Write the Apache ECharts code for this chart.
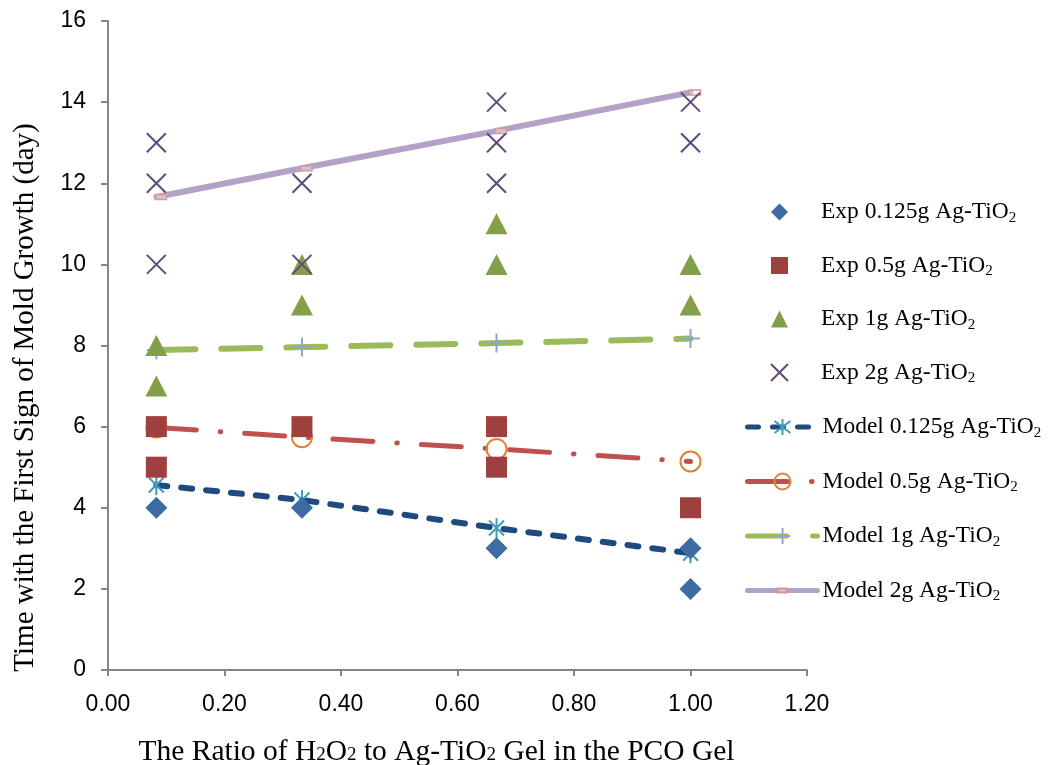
<!DOCTYPE html>
<html>
<head>
<meta charset="utf-8">
<script src="https://cdn.jsdelivr.net/npm/echarts@6/dist/echarts.min.js"></script>
<style>
html,body{margin:0;padding:0;background:#fff;}
#chart{width:1048px;height:765px;}
</style>
</head>
<body>
<div id="chart"></div>
<script>
// ---- data ----
const xTicks = [0, 0.2, 0.4, 0.6, 0.8, 1.0, 1.2];
const yTicks = [0, 2, 4, 6, 8, 10, 12, 14, 16];

const expNames = ['Exp 0.125g Ag-TiO2', 'Exp 0.5g Ag-TiO2', 'Exp 1g Ag-TiO2', 'Exp 2g Ag-TiO2'];
const modelNames = ['Model 0.125g Ag-TiO2', 'Model 0.5g Ag-TiO2', 'Model 1g Ag-TiO2', 'Model 2g Ag-TiO2'];

const exp0125 = [[0.083, 4], [0.333, 4], [0.667, 3], [1.0, 3], [1.0, 2]];
const exp05 = [[0.083, 6], [0.083, 5], [0.333, 6], [0.667, 6], [0.667, 5], [1.0, 4]];
const exp1 = [[0.083, 8], [0.083, 7], [0.333, 10], [0.333, 9], [0.667, 11], [0.667, 10], [1.0, 10], [1.0, 9]];
const exp2 = [[0.083, 13], [0.083, 12], [0.083, 10], [0.333, 12], [0.333, 10], [0.667, 14], [0.667, 13], [0.667, 12], [1.0, 14], [1.0, 13]];

const modelX = [0.083, 0.333, 0.667, 1.0];
const model0125 = [4.56, 4.19, 3.5, 2.88];
const model05 = [5.98, 5.74, 5.45, 5.14];
const model1 = [7.89, 7.96, 8.06, 8.17];
const model2 = [11.66, 12.37, 13.29, 14.24];

// ---- rendering ----
const pair = (xs, ys) => xs.map((x, i) => [x, ys[i]]);
const PATH_X = 'path://M0,0L20,20M20,0L0,20';
const PATH_STAR = 'path://M10,0L10,20M2.5,2.5L17.5,17.5M17.5,2.5L2.5,17.5';
const PATH_PLUS = 'path://M10,0L10,20M0,10L20,10';
const PATH_SMALLRECT = 'path://M0,0M20,20M4,7.5L15,7.5L15,12.5L4,12.5Z';
const SERIF = 'Liberation Serif';
const SANS = 'Liberation Sans';

const legendText = {
  fontFamily: SERIF, fontSize: 23.5, color: '#000', lineHeight: 26,
  rich: { s: { fontFamily: SERIF, fontSize: 15, color: '#000', padding: [12, 0, 0, 0] } }
};
const legendFormatter = n => n.replace('TiO2', 'TiO{s|2}');

const chart = echarts.init(document.getElementById('chart'));
chart.setOption({
  animation: false,
  backgroundColor: '#fff',
  grid: { left: 108, right: 241, top: 21, bottom: 95, containLabel: false, outerBoundsMode: 'none' },
  xAxis: {
    type: 'value', min: xTicks[0], max: xTicks[xTicks.length - 1], interval: 0.2,
    axisLine: { lineStyle: { color: '#868686', width: 2 } },
    axisTick: { show: true, length: 6, lineStyle: { color: '#868686', width: 2 } },
    splitLine: { show: false },
    axisLabel: { fontFamily: SANS, fontSize: 23, color: '#000', margin: 23, formatter: v => v.toFixed(2) },
    name: 'The Ratio of H{s|2}O{s|2} to Ag-TiO{s|2} Gel in the PCO Gel',
    nameLocation: 'middle', nameGap: 66,
    nameTextStyle: {
      fontFamily: SERIF, fontSize: 29.5, color: '#000', lineHeight: 32, padding: [0, 42, 0, 0],
      rich: { s: { fontFamily: SERIF, fontSize: 19, color: '#000', lineHeight: 32, padding: [7, 0, 0, 0] } }
    }
  },
  yAxis: {
    type: 'value', min: yTicks[0], max: yTicks[yTicks.length - 1], interval: 2,
    axisLine: { show: true, lineStyle: { color: '#868686', width: 2 } },
    axisTick: { show: true, length: 7, lineStyle: { color: '#868686', width: 2 } },
    splitLine: { show: false },
    axisLabel: { fontFamily: SANS, fontSize: 23, color: '#000', margin: 22 },
    name: 'Time with the First Sign of Mold Growth (day)',
    nameLocation: 'middle', nameRotate: 90, nameGap: 68,
    nameTextStyle: { fontFamily: SERIF, fontSize: 29, color: '#000', padding: [0, 104, 0, 0] }
  },
  legend: [
    {
      data: expNames, orient: 'vertical', left: 770, top: 199, padding: 0,
      itemWidth: 17, itemHeight: 17, itemGap: 27,
      formatter: legendFormatter,
      textStyle: Object.assign({}, legendText, { padding: [0, 0, 0, 28] })
    },
    {
      data: modelNames,
      orient: 'vertical', left: 745, top: 414, padding: 0,
      itemWidth: 70, itemHeight: 20, itemGap: 28,
      lineStyle: { width: 5 },
      formatter: legendFormatter,
      textStyle: legendText
    }
  ],
  series: [
    {
      name: modelNames[0], type: 'line', z: 2, data: pair(modelX, model0125),
      symbol: PATH_STAR, symbolSize: 20, symbolKeepAspect: true,
      lineStyle: { color: '#1F4A7D', width: 6, type: [11, 14], cap: 'round' },
      itemStyle: { color: 'rgba(0,0,0,0)', borderColor: '#3E9CB8', borderWidth: 2 }
    },
    {
      name: modelNames[1], type: 'line', z: 2, data: pair(modelX, model05),
      symbol: 'circle', symbolSize: 20,
      lineStyle: { color: '#C0504D', width: 5, type: [40, 24, 0.5, 24], cap: 'round' },
      itemStyle: { color: 'rgba(0,0,0,0)', borderColor: '#E3822F', borderWidth: 2 }
    },
    {
      name: modelNames[2], type: 'line', z: 2, data: pair(modelX, model1),
      symbol: PATH_PLUS, symbolSize: 19, symbolKeepAspect: true,
      lineStyle: { color: '#9BBB59', width: 6, type: [39, 26], cap: 'round' },
      itemStyle: { color: 'rgba(0,0,0,0)', borderColor: '#8EA5D0', borderWidth: 2 }
    },
    {
      name: modelNames[3], type: 'line', z: 2, data: pair(modelX, model2),
      symbol: PATH_SMALLRECT, symbolSize: 20, symbolKeepAspect: true, symbolOffset: [5, 0],
      lineStyle: { color: '#B3A2C7', width: 6, cap: 'round' },
      itemStyle: { color: 'rgba(255,255,255,0.35)', borderColor: '#D99694', borderWidth: 1.5 }
    },
    {
      name: expNames[0], type: 'scatter', z: 3, data: exp0125,
      symbol: 'diamond', symbolSize: 22,
      itemStyle: { color: '#3C6CA3', opacity: 1 }
    },
    {
      name: expNames[1], type: 'scatter', z: 3, data: exp05,
      symbol: 'rect', symbolSize: 21,
      itemStyle: { color: '#9E413E', opacity: 1 }
    },
    {
      name: expNames[2], type: 'scatter', z: 3, data: exp1,
      symbol: 'triangle', symbolSize: [22, 21],
      itemStyle: { color: '#82A04A', opacity: 1 }
    },
    {
      name: expNames[3], type: 'scatter', z: 3, data: exp2,
      symbol: PATH_X, symbolSize: 19, symbolKeepAspect: true,
      itemStyle: { color: 'rgba(0,0,0,0)', borderColor: '#5F4A7B', borderWidth: 2, opacity: 1 }
    }
  ]
});
</script>
</body>
</html>
